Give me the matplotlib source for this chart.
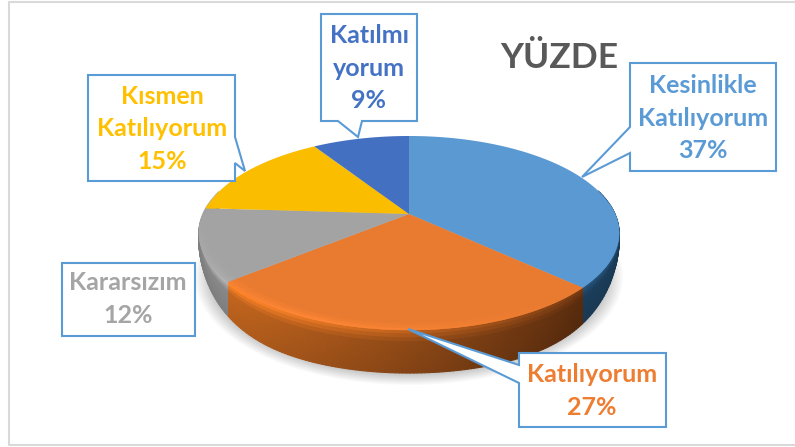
import numpy as np
from matplotlib import pyplot as plt
from matplotlib.collections import PolyCollection
from matplotlib.patches import Ellipse, Polygon

plt.rcParams['font.family'] = ['Lato', 'DejaVu Sans']

# veriler
labels = ['Kesinlikle\nKatılıyorum', 'Katılıyorum', 'Kararsızım', 'Kısmen\nKatılıyorum', 'Katılmı\nyorum']
values = [37, 27, 12, 15, 9]
colors = ['#5B9BD5', '#ED7D31', '#A5A5A5', '#FFC000', '#4472C4']
title = 'YÜZDE'

# pie on screen (pixels)
cx, cy = 409, 214
A, B, K = 93.3, 206, 0.196
depth = 43

# side colour at left end and right end of the visible arc
side_left = ['#2F6189', '#C8681F', '#8C8C8C', '#8C8C8C', '#2F5597']
side_right = ['#1C3F5C', '#5A2C0E', '#8C8C8C', '#8C8C8C', '#2F5597']


def project(r, ang):
    u = r * np.cos(ang)
    v = r * np.sin(ang)
    d = 1 + K * v
    return cx + B * u / d, cy - A * v / d


def wall(x):
    # wall looks shorter near both ends of the pie
    r = np.clip(np.abs(x - cx) / 212, 0, 1)
    return depth * np.sqrt(1 - r ** 6)


def rgb(c):
    return np.array(plt.matplotlib.colors.to_rgb(c))


fig = plt.figure(figsize=(7.95, 4.47), dpi=100)
ax = fig.add_axes([0, 0, 1, 1])
ax.set_xlim(0, 795)
ax.set_ylim(447, 0)
ax.axis('off')

# frame
ax.plot([796, 9, 9, 796], [2, 2, 445, 445], color='#D9D9D9', lw=1.5, zorder=1)

# soft shadow under the pie
for i in range(14):
    ax.add_patch(Ellipse((409, 277), 2 * (214 - i * 1.5), 2 * (108 - i * 1.0),
                         fc='#000000', ec='none', alpha=0.02, zorder=2))

# slices angles
fracs = np.array(values) / sum(values)
edges = np.pi / 2 - 2 * np.pi * np.concatenate([[0], np.cumsum(fracs)])

# side wall
polys, cols = [], []
for i in range(len(values)):
    angs = np.linspace(edges[i], edges[i + 1], 120)
    for a0, a1 in zip(angs[:-1], angs[1:]):
        mid = (a0 + a1) / 2
        if np.sin(mid) > 0.25:
            continue
        x0, y0 = project(1, a0)
        x1, y1 = project(1, a1)
        d0, d1 = wall(x0), wall(x1)
        # 0 at the right end of the arc, 1 at the left end
        t = np.clip((0.75 - np.cos(mid)) / 1.5, 0, 1)
        base = rgb(side_right[i]) * (1 - t) + rgb(side_left[i]) * t
        bands = np.linspace(0, 1, 12)
        for s0, s1 in zip(bands[:-1], bands[1:]):
            # rounded bevel on top, a little darker to the bottom
            f = 1.0 + 0.3 * max(0, 1 - s0 / 0.25) - 0.1 * s0
            c = np.clip(base * f, 0, 1)
            polys.append([(x0, y0 + d0 * s0), (x1, y1 + d1 * s0), (x1, y1 + d1 * s1), (x0, y0 + d0 * s1)])
            cols.append(c)
ax.add_collection(PolyCollection(polys, facecolors=cols, edgecolors=cols, linewidths=0.8, zorder=3))

# top face
for i in range(len(values)):
    angs = np.linspace(edges[i], edges[i + 1], 120)
    x, y = project(1, angs)
    top = rgb(colors[i]) * 0.985
    ax.fill(np.r_[cx, x], np.r_[cy, y], color=top, lw=0, zorder=4)
    # light rim at the front, stronger on the left
    for a0, a1 in zip(angs[:-1], angs[1:]):
        mid = (a0 + a1) / 2
        if np.sin(mid) > 0.1:
            continue
        power = np.clip(0.6 - np.cos(mid), 0, 1) * -np.sin(mid)
        for r0, r1, f in [(1.0, 0.985, 0.10), (0.985, 0.97, 0.06), (0.97, 0.955, 0.03)]:
            x1, y1 = project(r0, np.array([a0, a1]))
            x2, y2 = project(r1, np.array([a1, a0]))
            c = np.clip(top * (1 + f * power), 0, 1)
            ax.fill(np.r_[x1, x2], np.r_[y1, y2], color=c, lw=0.3, zorder=5)

# callouts: outline points in pixels, then text centre
callouts = [
    ([(630, 63), (776, 63), (776, 171), (630, 171), (630, 153), (582, 177), (630, 127)], (703, 118)),
    ([(519, 353), (666, 353), (666, 427), (519, 427), (519, 383), (408, 329), (519, 365)], (592, 391)),
    ([(62, 263), (195, 263), (195, 336), (62, 336)], (128, 299)),
    ([(88, 75), (235, 75), (235, 137), (245, 171), (235, 163), (235, 181), (88, 181)], (162, 129)),
    ([(321, 14), (417, 14), (417, 121), (362, 121), (358, 137), (338, 121), (321, 121)], (369, 68)),
]
for i, (pts, pos) in enumerate(callouts):
    ax.add_patch(Polygon(pts, closed=True, fc='white', ec='#5B9BD5', lw=1.5, zorder=6))
    ax.text(pos[0], pos[1], '%s\n%d%%' % (labels[i], values[i]), color=colors[i],
            fontsize=18, fontweight='bold', ha='center', va='center', linespacing=1.48, zorder=7)

ax.text(559, 58, title, color='#595959', fontsize=25.5, fontweight='bold',
        ha='center', va='center', zorder=7)

fig.savefig('out.png', dpi=100)
